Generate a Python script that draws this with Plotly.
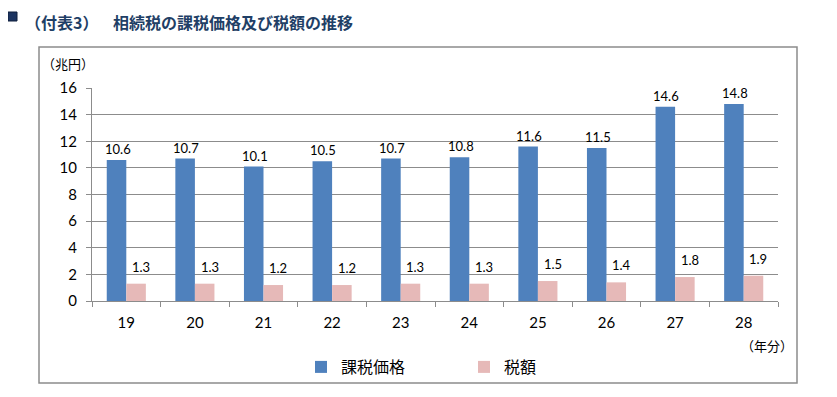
import plotly.graph_objects as go

years = ["19", "20", "21", "22", "23", "24", "25", "26", "27", "28"]
taxable_value = [10.6, 10.7, 10.1, 10.5, 10.7, 10.8, 11.6, 11.5, 14.6, 14.8]
tax_amount = [1.3, 1.3, 1.2, 1.2, 1.3, 1.3, 1.5, 1.4, 1.8, 1.9]
series_names = ["課税価格", "税額"]
y_ticks = [0, 2, 4, 6, 8, 10, 12, 14, 16]

# page body has an 8px default margin; work in screen pixels and offset
OFF = 8
W, H = 837 - OFF, 397 - OFF
L, R, T, B = 92, 778, 88, 301  # plot area in screen pixels
PW, PH = R - L, B - T


def px(x):
    return (x - L) / PW


def py(y):
    return (B - y) / PH


NUM_FONT = "Lato, 'Noto Sans CJK JP', sans-serif"
JP_FONT = "'Noto Sans CJK JP', sans-serif"

fig = go.Figure()
fig.add_trace(go.Bar(x=years, y=taxable_value, name=series_names[0],
                     marker=dict(color="#4F81BD", line=dict(width=0))))
fig.add_trace(go.Bar(x=years, y=tax_amount, name=series_names[1],
                     marker=dict(color="#E6B9B8", line=dict(width=0))))

annotations = []
half = PW / len(years) * (1 - 0.43) / 4
for i, v in enumerate(taxable_value):
    annotations.append(dict(x=i, y=v, xref="x", yref="y", text=f"{v:.1f}",
                            showarrow=False, xshift=-half + 1, yshift=11,
                            yanchor="middle", font=dict(family=NUM_FONT, size=13, color="#000")))
for i, v in enumerate(tax_amount):
    annotations.append(dict(x=i, y=v, xref="x", yref="y", text=f"{v:.1f}",
                            showarrow=False, xshift=half + 5, yshift=17,
                            yanchor="middle", font=dict(family=NUM_FONT, size=13, color="#000")))

annotations += [
    dict(x=px(23), y=py(OFF), xref="paper", yref="paper", text="<b>（付表3）</b>",
         showarrow=False, xanchor="left", yanchor="top",
         font=dict(family=JP_FONT, size=16, color="#1F3F66")),
    dict(x=px(111), y=py(OFF), xref="paper", yref="paper", text="<b>相続税の課税価格及び税額の推移</b>",
         showarrow=False, xanchor="left", yanchor="top",
         font=dict(family=JP_FONT, size=16, color="#1F3F66")),
    dict(x=px(40), y=py(64), xref="paper", yref="paper", text="（兆円）",
         showarrow=False, xanchor="left", yanchor="middle",
         font=dict(family=JP_FONT, size=13, color="#000")),
    dict(x=px(767), y=py(345), xref="paper", yref="paper", text="（年分）",
         showarrow=False, xanchor="center", yanchor="middle",
         font=dict(family=JP_FONT, size=13, color="#000")),
]

shapes = [
    dict(type="rect", xref="paper", yref="paper",
         x0=px(39), x1=px(797), y0=py(383), y1=py(47),
         line=dict(color="#8C8C8C", width=1.5), fillcolor="rgba(0,0,0,0)", layer="below"),
    dict(type="rect", xref="paper", yref="paper",
         x0=px(8), x1=px(17), y0=py(21), y1=py(12),
         line=dict(color="#0E1F3D", width=1), fillcolor="#1C3461"),
]

fig.update_layout(
    width=W, height=H,
    margin=dict(l=L - OFF, r=W - (R - OFF), t=T - OFF, b=H - (B - OFF), autoexpand=False),
    paper_bgcolor="white", plot_bgcolor="white",
    barmode="group", bargap=0.43, bargroupgap=0,
    showlegend=True,
    legend=dict(orientation="h", x=px(301), xanchor="left", y=py(367), yanchor="middle",
                font=dict(family=JP_FONT, size=16, color="#000"),
                entrywidth=118, entrywidthmode="pixels", bgcolor="rgba(0,0,0,0)"),
    annotations=annotations,
    shapes=shapes,
    xaxis=dict(type="category", range=[-0.5, len(years) - 0.5], tickson="boundaries",
               ticks="outside", ticklen=5, tickangle=0,
               tickcolor="#8C8C8C", showline=True, linecolor="#8C8C8C", linewidth=1,
               showgrid=False, tickfont=dict(family=NUM_FONT, size=15, color="#000"),
               ticklabelstandoff=8),
    yaxis=dict(range=[0, 16], tickvals=y_ticks, ticks="outside", ticklen=5,
               tickcolor="#8C8C8C", showline=True, linecolor="#8C8C8C", linewidth=1,
               showgrid=True, gridcolor="#8C8C8C", gridwidth=1, zeroline=False,
               tickfont=dict(family=NUM_FONT, size=15, color="#000"), ticklabelstandoff=6),
)

fig.write_html("out.html")
